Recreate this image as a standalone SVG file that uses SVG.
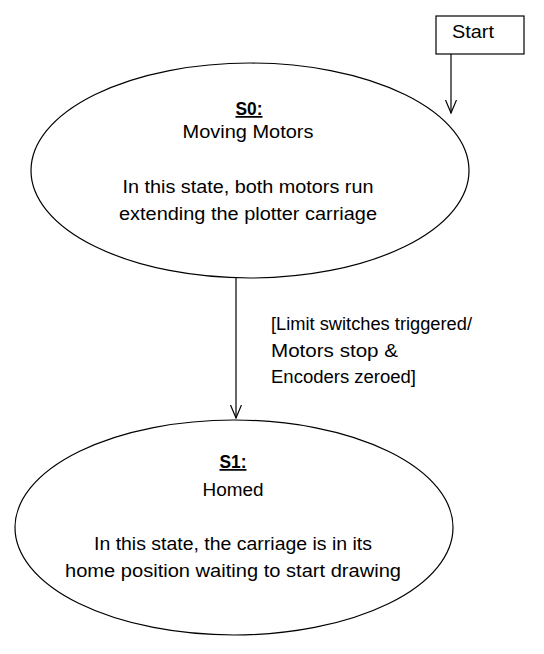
<svg xmlns="http://www.w3.org/2000/svg" width="544" height="654" viewBox="0 0 544 654">
<style>
.shape{fill:#fff;stroke:#000;stroke-width:1.2}
.t{font-family:"Liberation Sans",Arial,sans-serif;font-size:17.5px;fill:#000}
.c{text-anchor:middle}
.b{font-weight:bold;text-decoration:underline}
.edge{stroke:#000;stroke-width:1.2;fill:none;marker-end:url(#arr)}
</style>
<defs>
<marker id="arr" markerWidth="16" markerHeight="14" refX="13" refY="6" orient="auto" markerUnits="userSpaceOnUse">
<path d="M0,0.5 L13,6 L0,11.5" fill="none" stroke="#000" stroke-width="1.2"/>
</marker>
</defs>
<rect width="544" height="654" fill="#fff"/>
<g id="start">
<rect class="shape" x="436" y="16" width="88" height="38"/>
<text class="t" x="452" y="38" textLength="42" lengthAdjust="spacingAndGlyphs">Start</text>
</g>
<g id="s0">
<ellipse class="shape" cx="250" cy="170.5" rx="219" ry="107.5"/>
<text class="t c b" x="249" y="115" textLength="27" lengthAdjust="spacingAndGlyphs">S0:</text>
<text class="t c" x="248" y="138" textLength="131" lengthAdjust="spacingAndGlyphs">Moving Motors</text>
<text class="t c" x="248" y="193" textLength="251" lengthAdjust="spacingAndGlyphs">In this state, both motors run</text>
<text class="t c" x="248" y="220" textLength="258" lengthAdjust="spacingAndGlyphs">extending the plotter carriage</text>
</g>
<g id="s1">
<ellipse class="shape" cx="234" cy="527.5" rx="219" ry="107.5"/>
<text class="t c b" x="233" y="468" textLength="27" lengthAdjust="spacingAndGlyphs">S1:</text>
<text class="t c" x="233" y="496" textLength="61" lengthAdjust="spacingAndGlyphs">Homed</text>
<text class="t c" x="233" y="550" textLength="278" lengthAdjust="spacingAndGlyphs">In this state, the carriage is in its</text>
<text class="t c" x="233" y="577" textLength="336" lengthAdjust="spacingAndGlyphs">home position waiting to start drawing</text>
</g>
<g id="connectors">
<line class="edge" x1="451" y1="54" x2="451" y2="113"/>
<line class="edge" x1="236" y1="278" x2="236" y2="418"/>
<text class="t" x="271" y="330" textLength="201" lengthAdjust="spacingAndGlyphs">[Limit switches triggered/</text>
<text class="t" x="271" y="357" textLength="127" lengthAdjust="spacingAndGlyphs">Motors stop &amp;</text>
<text class="t" x="271" y="383" textLength="145" lengthAdjust="spacingAndGlyphs">Encoders zeroed]</text>
</g>
</svg>
